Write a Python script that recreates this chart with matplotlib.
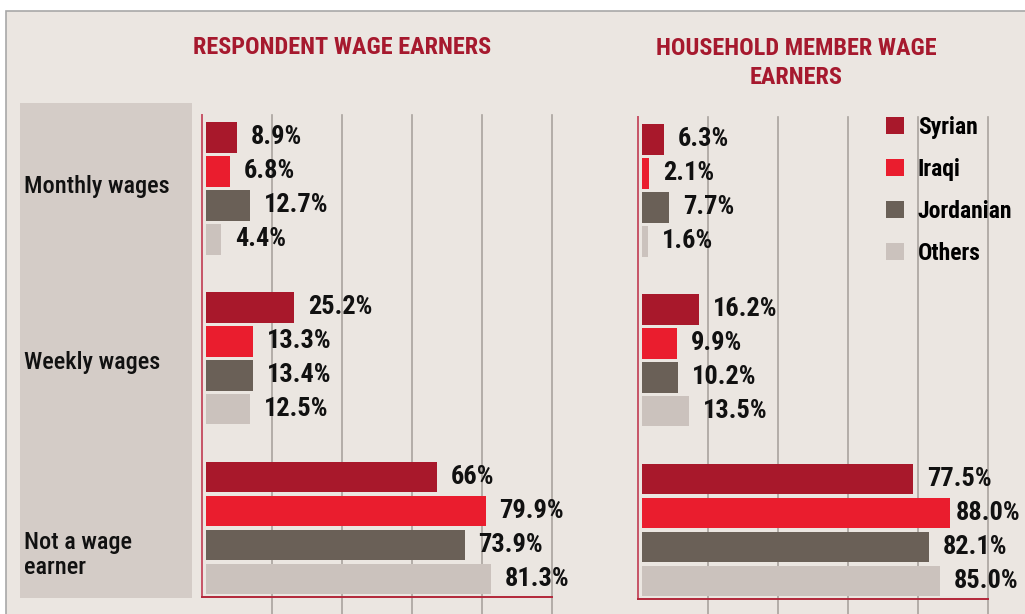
import matplotlib
matplotlib.use("Agg")
import matplotlib.pyplot as plt
from matplotlib import font_manager
from matplotlib.patches import Rectangle, Patch

# data
categories = ["Monthly wages", "Weekly wages", "Not a wage\nearner"]
groups = ["Syrian", "Iraqi", "Jordanian", "Others"]
respondent = {
    "Syrian": [8.9, 25.2, 66],
    "Iraqi": [6.8, 13.3, 79.9],
    "Jordanian": [12.7, 13.4, 73.9],
    "Others": [4.4, 12.5, 81.3],
}
respondent_lbl = {
    "Syrian": ["8.9%", "25.2%", "66%"],
    "Iraqi": ["6.8%", "13.3%", "79.9%"],
    "Jordanian": ["12.7%", "13.4%", "73.9%"],
    "Others": ["4.4%", "12.5%", "81.3%"],
}
household = {
    "Syrian": [6.3, 16.2, 77.5],
    "Iraqi": [2.1, 9.9, 88.0],
    "Jordanian": [7.7, 10.2, 82.1],
    "Others": [1.6, 13.5, 85.0],
}
household_lbl = {
    "Syrian": ["6.3%", "16.2%", "77.5%"],
    "Iraqi": ["2.1%", "9.9%", "88.0%"],
    "Jordanian": ["7.7%", "10.2%", "82.1%"],
    "Others": ["1.6%", "13.5%", "85.0%"],
}
titles = ["RESPONDENT WAGE EARNERS", "HOUSEHOLD MEMBER WAGE\nEARNERS"]

colors = {"Syrian": "#a8182b", "Iraqi": "#ea1d2e", "Jordanian": "#6a6057", "Others": "#cbc2bd"}
BG = "#ebe6e1"
DARKRED = "#a6192e"

# pick a narrow face if there is one
names = {f.name for f in font_manager.fontManager.ttflist}
font = "Roboto"
for cand in ["Roboto Condensed", "Liberation Sans Narrow", "Fira Sans Condensed"]:
    if cand in names:
        font = cand
        break
plt.rcParams["font.family"] = [font, "DejaVu Sans"]

W, H = 1025, 614
fig = plt.figure(figsize=(W / 100, H / 100), dpi=100, facecolor="white")

def fx(px):
    return px / W

def fy(py):
    return 1 - py / H

# panel background + border
fig.patches.append(Rectangle((fx(6), fy(640)), fx(1040), 629 / H, transform=fig.transFigure,
                             facecolor=BG, edgecolor="#a8a8a8", lw=1.2, zorder=-10))
# grey box behind category labels
fig.patches.append(Rectangle((fx(20), fy(598)), fx(172), 495 / H, transform=fig.transFigure,
                             facecolor="#d4ccc7", edgecolor="none", zorder=-9))

label_y = [1.44, 6.64, 12.29]
for y, cat in zip(label_y, categories):
    fig.text(fx(24), fy(115 + (y + 0.65) * 34), cat, fontsize=17.5, fontweight="medium",
             color="#111111", va="center", ha="left", linespacing=1.1)

value_texts = []  # (text, bar, axes)

def panel(left_px, top_px, data, lbls, title, title_x, title_y):
    ax = fig.add_axes([fx(left_px), fy(top_px + 482), fx(350), 482 / H])
    ax.set_facecolor("none")
    for j, g in enumerate(groups):
        ys = [5 * i + j for i in range(len(categories))]
        bars = ax.barh(ys, data[g], height=0.91, color=colors[g], zorder=3)
        for b, y, v, t in zip(bars, ys, data[g], lbls[g]):
            txt = ax.annotate(t, (v, y), xytext=(10, 0), textcoords="offset points",
                              va="center", ha="left", fontsize=19, fontweight="bold",
                              color="#111111", zorder=4, annotation_clip=False)
            value_texts.append((txt, b, ax))
    ax.set_xlim(-4 / 3.5, 346 / 3.5)
    ax.set_ylim(13.53, -0.65)
    for gx in [0.2, 0.4, 0.6, 0.8, 1.0]:
        ax.plot([gx, gx], [1, -0.036], transform=ax.transAxes, color="#aaa39e",
                lw=1.2, clip_on=False, zorder=1)
    for s in ["top", "right"]:
        ax.spines[s].set_visible(False)
    ax.spines["left"].set_color("#c65466")
    ax.spines["bottom"].set_color("#b3273a")
    ax.spines["left"].set_linewidth(1.4)
    ax.spines["bottom"].set_linewidth(1.4)
    ax.set_xticks([])
    ax.set_yticks([])
    fig.text(fx(title_x), fy(title_y), title, ha="center", va="center", fontsize=17.5,
             fontweight="bold", color=DARKRED, linespacing=1.35)
    return ax

panel(202, 115, respondent, respondent_lbl, titles[0], 342, 47)
panel(638, 117, household, household_lbl, titles[1], 796, 63)

# labels that run off the right edge get pulled back over the bar,
# the part over the bar drawn in white like the original
fig.canvas.draw()
for txt, b, ax in value_texts:
    bb = txt.get_window_extent()
    if bb.x1 > W - 5:
        shift = (W - 5 - bb.x1) * 72 / fig.dpi
        txt.set_position((10 + shift, 0))
        white = ax.annotate(txt.get_text(), txt.xy, xytext=(10 + shift, 0),
                            textcoords="offset points", va="center", ha="left",
                            fontsize=19, fontweight="bold", color="white", zorder=5,
                            annotation_clip=False)
        white.set_clip_path(b)

handles = [Patch(facecolor=colors[g], edgecolor="none") for g in groups]
fig.legend(handles, groups, loc="upper left", bbox_to_anchor=(fx(886), fy(116)),
           frameon=False, prop={"weight": "bold", "size": 17},
           handlelength=0.75, handleheight=0.75, handletextpad=0.6,
           labelspacing=0.8, borderpad=0, borderaxespad=0)

fig.savefig("out.png", dpi=100, facecolor="white")
